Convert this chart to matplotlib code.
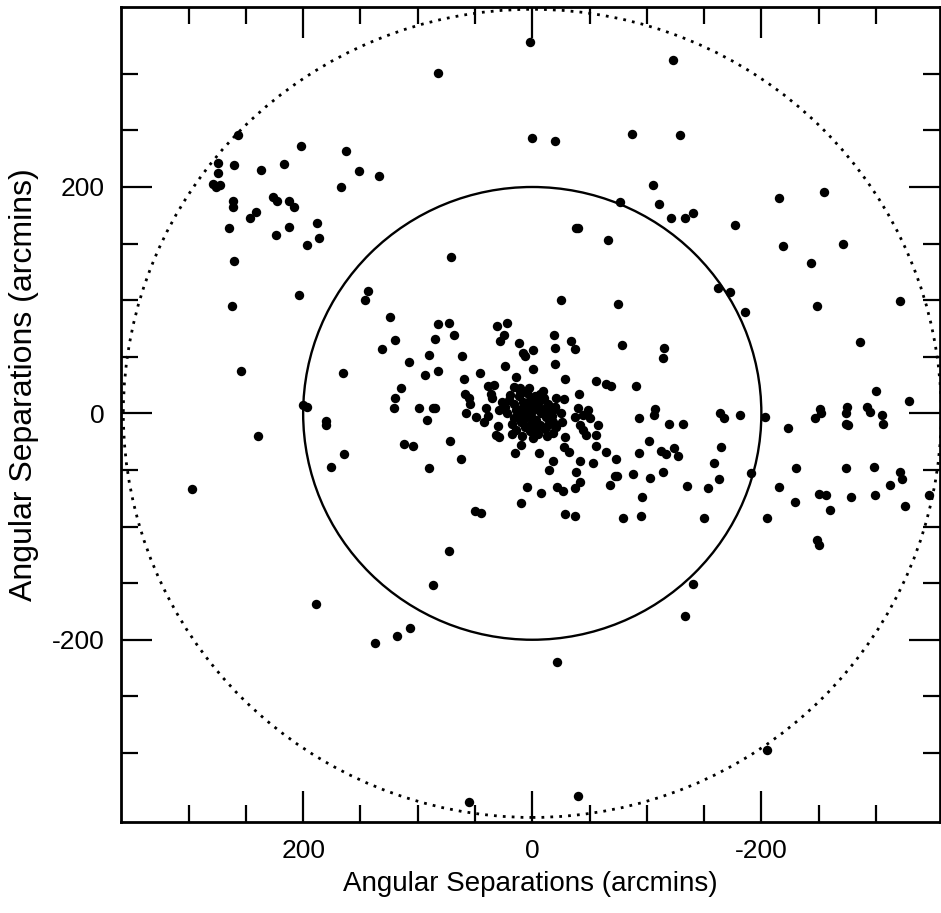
import numpy as np
import matplotlib.pyplot as plt
from matplotlib.patches import Circle

plt.rcParams['font.family'] = ['Liberation Sans', 'DejaVu Sans']

# positions in arcmins (x increases to the left)
field_x = [257, 202, 163, 274, 260, 217, 237, 274, 151, 134, 279, 276, 273, 167, 261, 261, 226, 223, 212, 208,
           246, 241, 265, 212, 188, 224, 186, 197, 260, 204, 262, 143, 146,
           2, -123, 82, 0, -20, -87, -129, -105, -77, -111, -121, -133, -140, -38, -40, -66, 71, -25, -75,
           -255, -215, -177, -219, -271, -243, -162, -173, -249, -321,
           254, 239, 297, 200, 197, 165, 180, 180, 164, 176, 124, 120, 131, 120, 121, 115,
           82, 73, 68, 85, 31, 22, 25, 28, 12, -1, 8, 6, 90, 61, 108, 82, 94, 46, 24, -1, 60, 14, 16, 11,
           39, 33, 36, 35, 59, 55, 54, 99, 87, 85, 92, 58, 49, 40, 39, 42, 26, 29, 30, 32, 29, 112, 104, 72,
           62, 90, 10, 15, -6, -15, 5, -8, 10, 50, 45,
           -19, -20, -20, -34, -37, -78, -115, -114, -29, -56, -64, -69, -91, -41,
           -21, -28, -20, -18, -25, -26, -21, -18,
           -40, -49, -37, -44, -50, -57, -42, -44, -47, -56, -56, -29, -28, -32, -64, -73, -93, -107, -106,
           -119, -132, -102, -93, -112, -117, -124, -127, -18, -42, -38, -53, -72, -74, -88, -103, -114,
           -135, -68, -42, -37, -22, -27, -96, -29, -37, -79, -95,
           -186, -286, -300, -329, -164, -167, -181, -203, -223, -251, -252, -247, -275, -274, -274, -276,
           -292, -295, -305, -306, -165, -159, -163, -153, -191, -230, -215, -229, -274, -298, -321, -323,
           -312, -346, -250, -256, -278, -299, -325, -260, -150, -205,
           -249, -250, 73, 87, 189, -140, -133, 107, 118, 137, -22, -205, 55, -40]
field_y = [246, 236, 232, 221, 219, 220, 215, 212, 214, 210, 203, 200, 202, 200, 188, 182, 191, 188, 188, 182,
           173, 178, 164, 165, 168, 158, 155, 149, 135, 105, 95, 108, 100,
           328, 312, 301, 243, 241, 247, 246, 202, 187, 185, 173, 173, 177, 164, 164, 153, 138, 100, 97,
           196, 190, 166, 148, 150, 133, 111, 107, 95, 99,
           37, -20, -67, 7, 6, 36, -7, -10, -36, -47, 85, 65, 57, 14, 5, 22,
           79, 80, 69, 66, 77, 80, 69, 64, 62, 56, 53, 51, 52, 51, 45, 37, 34, 36, 42, 39, 30, 32, 23, 22,
           24, 25, 17, 14, 17, 14, 8, 5, 5, 5, -6, 0, -3, 5, -2, -8, 10, 3, -11, -19, -21, -27, -29, -24,
           -40, -48, -28, -35, -35, -50, -65, -70, -79, -86, -88,
           69, 58, 44, 64, 57, 60, 58, 49, 30, 29, 26, 24, 24, 17,
           14, 13, 6, 3, 0, -8, -12, -17,
           5, 3, -3, -1, -4, -10, -10, -15, -19, -19, -29, -21, -30, -34, -34, -40, -4, 4, -1,
           -9, -9, -24, -35, -33, -36, -31, -38, -42, -42, -52, -44, -55, -55, -54, -57, -52,
           -64, -63, -61, -66, -65, -69, -74, -89, -91, -92, -91,
           90, 63, 20, 11, 0, -4, -1, -3, -13, 4, 0, -4, 6, 0, -9, -10,
           6, 1, -1, -9, -30, -44, -58, -66, -53, -48, -65, -78, -48, -47, -52, -58,
           -63, -72, -71, -72, -74, -72, -82, -85, -92, -92,
           -112, -116, -122, -152, -168, -151, -179, -190, -197, -203, -220, -297, -343, -338]

# dense clump at the centre
core_x = [20, 16, 12, 8, 5, 2, -2, -6, -10, -14, -4, 0, 4, 8, 12, 16, -8, -12, -16, -3, 1, 6, 10, -7,
          -11, 2, -5, 14, 18, 22, 24, -18, -20, -9, 3, 9, -1, 11, -13, 18, -2, 6, -6, 0,
          -4, 4, 10, -10, 14, -14, 7, -7, 1, -1, 19, -17]
core_y = [12, 8, 15, 10, 18, 12, 15, 10, 14, 8, 5, 2, -2, 3, -1, -4, 0, -3, 2, -6, -9, -12, -8, -10,
          -14, -16, -18, -15, -9, 0, 6, -8, 6, 20, 22, -20, -22, 20, -20, -18, 8, 5, 3, -4,
          -12, 7, 4, 4, 3, -10, -5, 17, 6, -14, 16, -2]

inner_radius = 200
outer_radius = 357

fig = plt.figure(figsize=(9.41, 9.13), dpi=100)
ax = fig.add_axes([0.1286, 0.0997, 0.8704, 0.8926])

ax.scatter(field_x + core_x, field_y + core_y, s=46, c='black', linewidths=0, zorder=3)
ax.add_patch(Circle((0, 0), inner_radius, fill=False, color='black', lw=1.7))
ax.add_patch(Circle((0, 0), outer_radius, fill=False, color='black', lw=2.0, ls=(0, (1, 2.2))))

ax.set_xlim(359, -356)
ax.set_ylim(-361, 359)

ax.set_xticks([200, 0, -200])
ax.set_xticklabels(['200', '0', '-200'])
ax.set_yticks([200, 0, -200])
ax.set_yticklabels(['200', '0', '-200'])
ax.set_xticks(np.arange(-300, 301, 50), minor=True)
ax.set_yticks(np.arange(-300, 301, 50), minor=True)
ax.tick_params(which='both', direction='in', top=True, right=True, width=1.6, labelsize=19)
ax.tick_params(which='major', length=22, pad=12)
ax.tick_params(which='minor', length=12)
for s in ax.spines.values():
    s.set_linewidth(2.0)

ax.set_xlabel('Angular Separations (arcmins)', fontsize=20, labelpad=6)
ax.set_ylabel('Angular Separations (arcmins)', fontsize=23)
ax.yaxis.set_label_coords(-0.10, 0.537)

fig.savefig('out.png', dpi=100)
